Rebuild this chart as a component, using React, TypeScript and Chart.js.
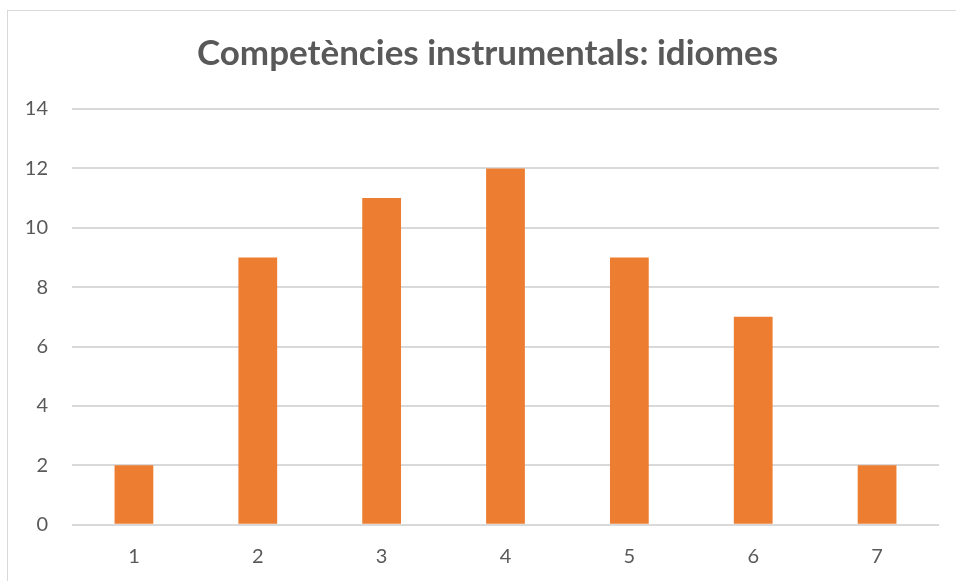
import React, { useEffect, useRef } from "react";
import { Chart, registerables } from "chart.js";

Chart.register(...registerables);

const TITLE = "Competències instrumentals: idiomes";
const CATEGORIES = ["1", "2", "3", "4", "5", "6", "7"];
const VALUES = [2, 9, 11, 12, 9, 7, 2];
const Y_MIN = 0;
const Y_MAX = 14;
const Y_STEP = 2;

const TEXT_COLOR = "#595959";
const GRID_COLOR = "#d9d9d9";
const BAR_COLOR = "#ED7D31";
const FONT = "Lato, 'Open Sans', sans-serif";

const decorPlugin = {
  id: "decor",
  beforeDraw(chart: any) {
    const ctx = chart.ctx;
    ctx.save();
    ctx.fillStyle = "#ffffff";
    ctx.fillRect(0, 0, chart.width, chart.height);
    ctx.fillStyle = GRID_COLOR;
    ctx.fillRect(7, 10, 1, chart.height);
    ctx.fillRect(7, 10, chart.width, 1);
    ctx.restore();
  },
  afterDraw(chart: any) {
    const ctx = chart.ctx;
    ctx.save();
    ctx.fillStyle = TEXT_COLOR;
    ctx.font = `bold 35px ${FONT}`;
    ctx.textAlign = "center";
    ctx.textBaseline = "alphabetic";
    ctx.fillText(TITLE, 487.5, 65);
    ctx.restore();
  },
};

export default function App() {
  const ref = useRef<HTMLCanvasElement | null>(null);

  useEffect(() => {
    document.body.style.margin = "0";
    const canvas = ref.current;
    if (!canvas) return;
    const chart = new Chart(canvas, {
      type: "bar",
      data: {
        labels: CATEGORIES,
        datasets: [
          {
            data: VALUES,
            backgroundColor: BAR_COLOR,
            borderWidth: 0,
            barPercentage: 0.313,
            categoryPercentage: 1,
          },
        ],
      },
      options: {
        responsive: false,
        animation: false,
        devicePixelRatio: 1,
        layout: { padding: { left: 0, right: 17, top: 109, bottom: 0 } },
        plugins: {
          legend: { display: false },
          tooltip: { enabled: false },
          title: { display: false },
        },
        scales: {
          x: {
            afterFit(scale: any) {
              scale.height = 56.3;
            },
            grid: { display: false, drawTicks: false },
            border: { display: false },
            ticks: {
              color: TEXT_COLOR,
              font: { family: FONT, size: 20 },
              padding: 20,
              maxRotation: 0,
            },
          },
          y: {
            min: Y_MIN,
            max: Y_MAX,
            afterFit(scale: any) {
              scale.width = 72;
            },
            grid: { color: GRID_COLOR, lineWidth: 2, drawTicks: false },
            border: { display: false },
            ticks: {
              stepSize: Y_STEP,
              color: TEXT_COLOR,
              font: { family: FONT, size: 20 },
              padding: 24,
            },
          },
        },
      },
      plugins: [decorPlugin],
    });
    return () => chart.destroy();
  }, []);

  return (
    <div style={{ width: 956, height: 581 }}>
      <canvas ref={ref} width={956} height={581} style={{ display: "block" }} />
    </div>
  );
}
